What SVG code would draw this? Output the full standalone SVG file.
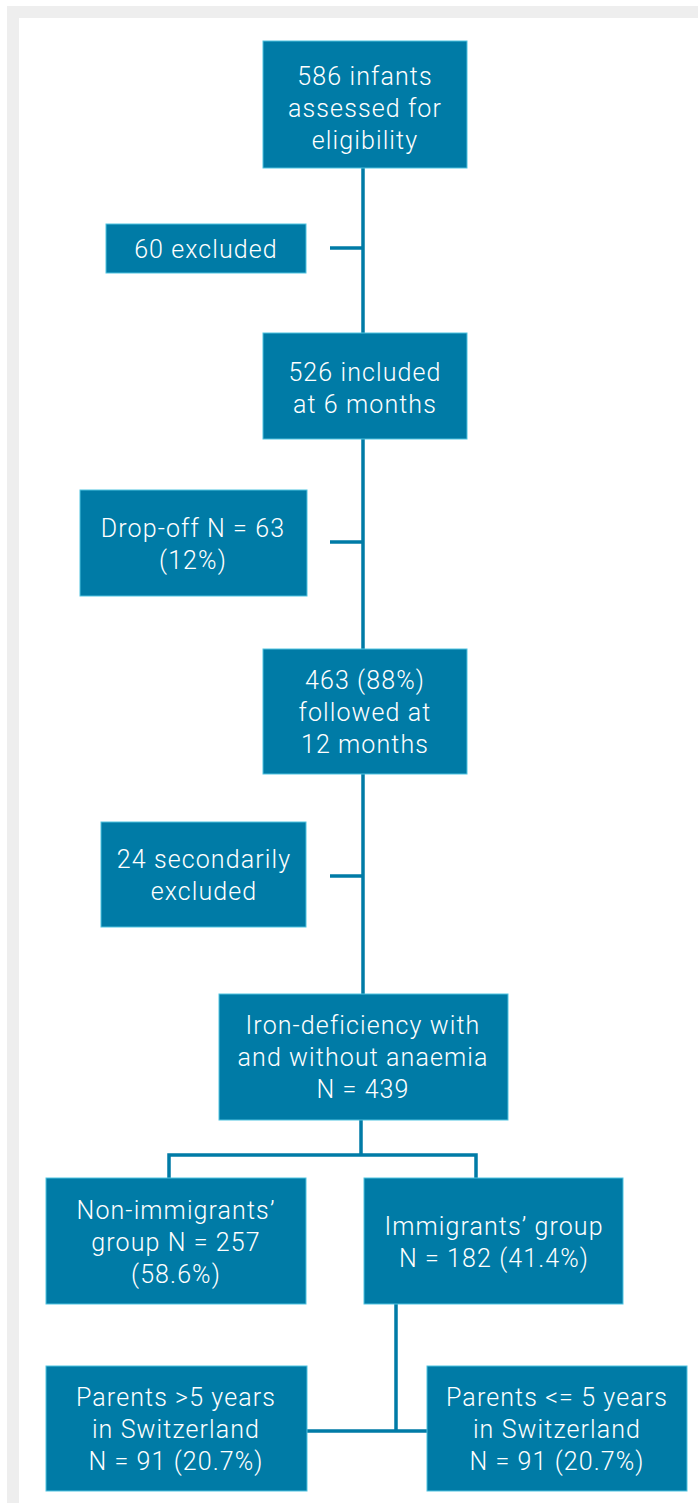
<svg xmlns="http://www.w3.org/2000/svg" width="698" height="1503" viewBox="0 0 698 1503">
<style>
.box{fill:#007ba6;stroke:#4fc3e0;stroke-width:1}
.t{font-family:Roboto,"Open Sans",sans-serif;font-size:25px;font-weight:300;letter-spacing:1.1px;fill:#ffffff;text-anchor:middle;dominant-baseline:central}
.c{stroke:#007ba6;stroke-width:3.5;fill:none}
</style>
<rect x="0" y="0" width="698" height="1503" fill="#ffffff"/>
<path d="M7 1503 V6 H698 V18 H19 V1503 Z" fill="#eeeeee"/>
<g id="connectors">
<line class="c" x1="363" y1="168" x2="363" y2="333"/>
<line class="c" x1="330" y1="248" x2="363" y2="248"/>
<line class="c" x1="363" y1="439" x2="363" y2="649"/>
<line class="c" x1="330" y1="542" x2="363" y2="542"/>
<line class="c" x1="363" y1="774" x2="363" y2="994"/>
<line class="c" x1="330" y1="876" x2="363" y2="876"/>
<path class="c" d="M361 1120 V1155 M169 1178 V1155 H476 V1178"/>
<path class="c" d="M396 1304 V1431 M307 1431 H427"/>
</g>
<g id="n1"><rect class="box" x="263" y="41" width="204" height="127"/>
<text class="t" x="365" y="76">586 infants</text><text class="t" x="365" y="108">assessed for</text><text class="t" x="365" y="140">eligibility</text></g>
<g id="n2"><rect class="box" x="106" y="224" width="200" height="49"/>
<text class="t" x="206" y="249">60 excluded</text></g>
<g id="n3"><rect class="box" x="263" y="333" width="204" height="106"/>
<text class="t" x="365" y="372">526 included</text><text class="t" x="365" y="404">at 6 months</text></g>
<g id="n4"><rect class="box" x="80" y="490" width="227" height="106"/>
<text class="t" x="193" y="528">Drop-off N = 63</text><text class="t" x="193" y="560">(12%)</text></g>
<g id="n5"><rect class="box" x="263" y="649" width="204" height="125"/>
<text class="t" x="365" y="680">463 (88%)</text><text class="t" x="365" y="712">followed at</text><text class="t" x="365" y="744">12 months</text></g>
<g id="n6"><rect class="box" x="101" y="822" width="205" height="105"/>
<text class="t" x="204" y="859">24 secondarily</text><text class="t" x="204" y="891">excluded</text></g>
<g id="n7"><rect class="box" x="219" y="994" width="289" height="126"/>
<text class="t" x="363" y="1025">Iron-deficiency with</text><text class="t" x="363" y="1057">and without anaemia</text><text class="t" x="363" y="1089">N = 439</text></g>
<g id="n8"><rect class="box" x="46" y="1178" width="260" height="126"/>
<text class="t" x="176" y="1210">Non-immigrants’</text><text class="t" x="176" y="1242">group N = 257</text><text class="t" x="176" y="1274">(58.6%)</text></g>
<g id="n9"><rect class="box" x="364" y="1178" width="259" height="126"/>
<text class="t" x="494" y="1226">Immigrants’ group</text><text class="t" x="494" y="1258">N = 182 (41.4%)</text></g>
<g id="n10"><rect class="box" x="46" y="1366" width="261" height="125"/>
<text class="t" x="176" y="1397">Parents &gt;5 years</text><text class="t" x="176" y="1429">in Switzerland</text><text class="t" x="176" y="1461">N = 91 (20.7%)</text></g>
<g id="n11"><rect class="box" x="427" y="1366" width="260" height="125"/>
<text class="t" x="557" y="1397">Parents &lt;= 5 years</text><text class="t" x="557" y="1429">in Switzerland</text><text class="t" x="557" y="1461">N = 91 (20.7%)</text></g>
</svg>
